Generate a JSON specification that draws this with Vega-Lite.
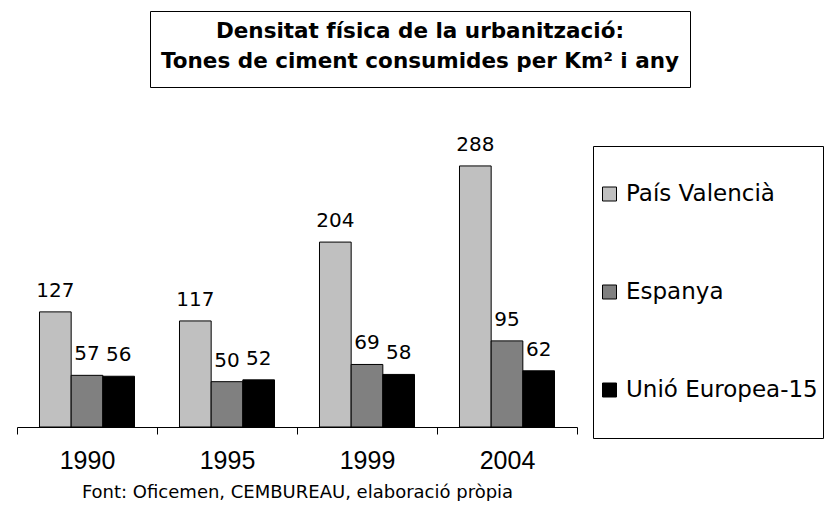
{
  "$schema": "https://vega.github.io/schema/vega-lite/v6.json",
  "padding": {"left": 16, "top": 10, "right": 0, "bottom": 0},
  "background": "white",
  "bounds": "flush",
  "center": true,
  "spacing": 59,
  "config": {
    "view": {"stroke": null},
    "legend": {
      "orient": "none",
      "legendX": 576,
      "legendY": 135,
      "strokeColor": "black",
      "fillColor": "white",
      "padding": 5,
      "symbolType": "square",
      "symbolSize": 196,
      "symbolStrokeColor": "black",
      "symbolStrokeWidth": 1,
      "symbolOpacity": 1,
      "labelFont": "DejaVu Sans",
      "labelFontSize": 23,
      "labelColor": "black",
      "labelOffset": 5,
      "labelLimit": 400,
      "clipHeight": 86,
      "rowPadding": 12
    }
  },
  "vconcat": [
    {
      "width": 540,
      "height": 76,
      "view": {"stroke": "black", "strokeWidth": 1},
      "data": {"values": [{}]},
      "mark": {
        "type": "text",
        "text": ["Densitat física de la urbanització:", "Tones de ciment consumides per Km² i any"],
        "font": "DejaVu Sans",
        "fontWeight": "bold",
        "fontSize": 21.5,
        "lineHeight": 30,
        "baseline": "middle",
        "align": "center",
        "color": "black",
        "dy": -17
      },
      "encoding": {}
    },
    {
      "width": 806,
      "height": 281,
      "data": {
        "values": [
          {"any": "1990", "serie": "País Valencià", "valor": 127},
          {"any": "1990", "serie": "Espanya", "valor": 57},
          {"any": "1990", "serie": "Unió Europea-15", "valor": 56},
          {"any": "1995", "serie": "País Valencià", "valor": 117},
          {"any": "1995", "serie": "Espanya", "valor": 50},
          {"any": "1995", "serie": "Unió Europea-15", "valor": 52},
          {"any": "1999", "serie": "País Valencià", "valor": 204},
          {"any": "1999", "serie": "Espanya", "valor": 69},
          {"any": "1999", "serie": "Unió Europea-15", "valor": 58},
          {"any": "2004", "serie": "País Valencià", "valor": 288},
          {"any": "2004", "serie": "Espanya", "valor": 95},
          {"any": "2004", "serie": "Unió Europea-15", "valor": 62}
        ]
      },
      "encoding": {
        "x": {
          "field": "any",
          "type": "nominal",
          "scale": {"range": [0, 560], "paddingInner": 0, "paddingOuter": 0},
          "axis": {
            "title": "Font: Oficemen, CEMBUREAU, elaboració pròpia",
            "titleFont": "DejaVu Sans",
            "titleFontSize": 18,
            "titleFontWeight": "normal",
            "titleColor": "black",
            "titlePadding": 10,
            "labelFont": "Liberation Sans",
            "labelFontSize": 25,
            "labelColor": "black",
            "labelAngle": 0,
            "labelPadding": 14,
            "domainColor": "black",
            "domainWidth": 1,
            "tickColor": "black",
            "tickSize": 7,
            "tickBand": "extent",
            "grid": false
          }
        },
        "xOffset": {
          "field": "serie",
          "type": "nominal",
          "sort": ["País Valencià", "Espanya", "Unió Europea-15"],
          "scale": {"paddingInner": 0, "paddingOuter": 0.71}
        },
        "y": {
          "field": "valor",
          "type": "quantitative",
          "scale": {"domain": [0, 310]},
          "axis": null
        }
      },
      "layer": [
        {
          "mark": {"type": "bar", "stroke": "black", "strokeWidth": 1, "opacity": 1},
          "encoding": {
            "color": {
              "field": "serie",
              "type": "nominal",
              "sort": ["País Valencià", "Espanya", "Unió Europea-15"],
              "scale": {
                "domain": ["País Valencià", "Espanya", "Unió Europea-15"],
                "range": ["#c0c0c0", "#808080", "#000000"]
              },
              "legend": {"title": null}
            }
          }
        },
        {
          "mark": {
            "type": "text",
            "font": "DejaVu Sans",
            "fontSize": 20,
            "baseline": "alphabetic",
            "align": "center",
            "dy": -15,
            "color": "black"
          },
          "encoding": {
            "text": {"field": "valor", "type": "quantitative"}
          }
        }
      ]
    }
  ]
}
